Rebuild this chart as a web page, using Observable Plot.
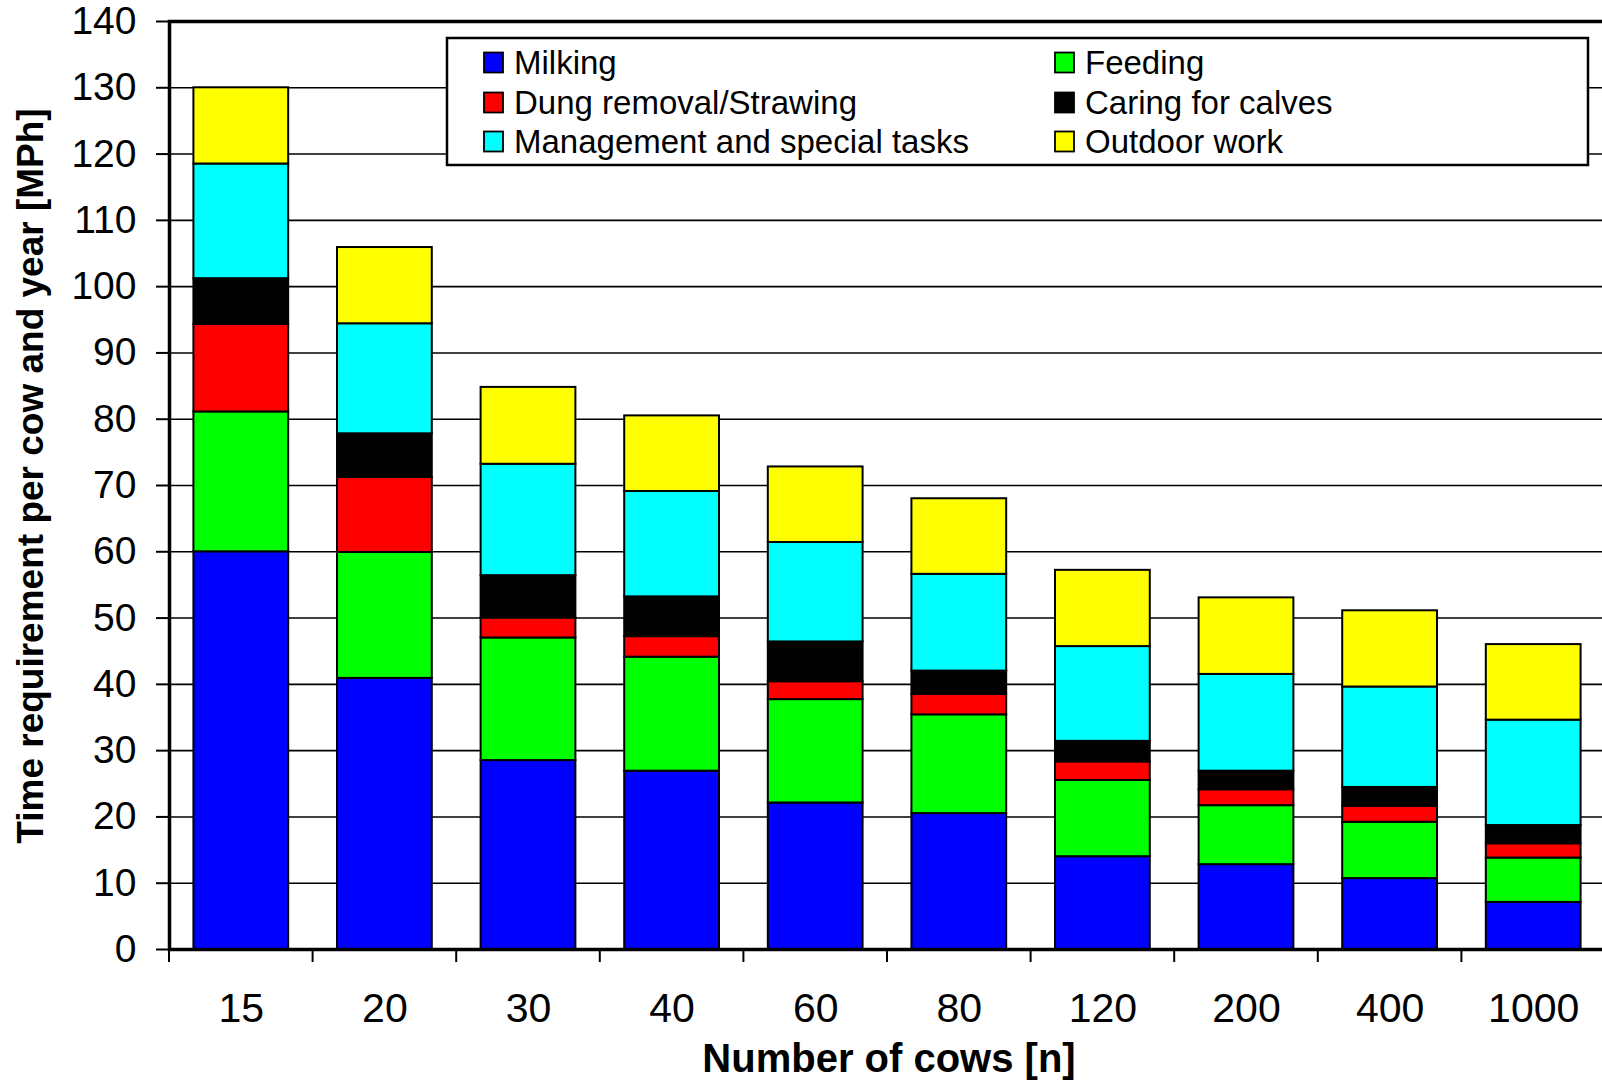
<!DOCTYPE html>
<html>
<head>
<meta charset="utf-8">
<script src="https://cdn.jsdelivr.net/npm/d3@7"></script>
<script src="https://cdn.jsdelivr.net/npm/@observablehq/plot@0.6"></script>
<style>
  html, body { margin: 0; padding: 0; background: #fff; overflow: hidden; }
</style>
</head>
<body>
<div id="chart"></div>
<script>
// Herd sizes (number of cows) on the x axis
const cows = ["15", "20", "30", "40", "60", "80", "120", "200", "400", "1000"];

// Work categories, stacked bottom to top, and their fills
const tasks = [
  "Milking",
  "Feeding",
  "Dung removal/Strawing",
  "Caring for calves",
  "Management and special tasks",
  "Outdoor work"
];
const taskColors = ["#0000ff", "#00ff00", "#ff0000", "#000000", "#00ffff", "#ffff00"];

// Time requirement per cow and year [MPh] for each category
const milking    = [60.0, 40.9, 28.5, 26.9, 22.1, 20.5, 14.0, 12.8, 10.7, 7.1];
const feeding    = [21.1, 19.0, 18.5, 17.2, 15.6, 14.9, 11.5, 8.9, 8.5, 6.7];
const dung       = [13.2, 11.3, 3.0, 3.1, 2.7, 3.1, 2.8, 2.4, 2.4, 2.15];
const calves     = [6.9, 6.6, 6.4, 6.0, 6.0, 3.5, 3.1, 2.8, 2.85, 2.75];
const management = [17.3, 16.6, 16.8, 15.9, 15.0, 14.6, 14.3, 14.6, 15.15, 15.9];
const outdoor    = [11.5, 11.5, 11.6, 11.4, 11.4, 11.4, 11.5, 11.55, 11.5, 11.4];

// Value axis ticks
const yTicks = [0, 10, 20, 30, 40, 50, 60, 70, 80, 90, 100, 110, 120, 130, 140];

const xTitle = "Number of cows [n]";
const yTitle = "Time requirement per cow and year [MPh]";

// Long-format table for the stacked bars
const series = [milking, feeding, dung, calves, management, outdoor];
const rows = cows.flatMap((c, i) =>
  tasks.map((t, k) => ({cows: c, task: t, value: series[k][i]}))
);

const FONT = "'Liberation Sans', Arial, Helvetica, sans-serif";

const chart = Plot.plot({
  width: 1602,
  height: 1082,
  marginLeft: 169,
  marginRight: -3,
  marginTop: 21,
  marginBottom: 133,
  style: {fontFamily: FONT, color: "black", background: "white", overflow: "hidden"},
  x: {domain: cows, paddingInner: 0.34, paddingOuter: 0.17, round: false, label: null},
  y: {domain: [0, 140], label: null},
  color: {domain: tasks, range: taskColors},
  marks: [
    Plot.ruleY(yTicks, {stroke: "black", strokeWidth: 1.6}),
    Plot.barY(rows, {x: "cows", y: "value", fill: "task", stroke: "black", strokeWidth: 2}),
    Plot.frame({stroke: "black", strokeWidth: 3.5}),
    Plot.axisY({ticks: yTicks, tickSize: 13, tickPadding: 20, fontSize: 39, strokeWidth: 2, label: null}),
    Plot.axisX({tickSize: 0, tickPadding: 43, fontSize: 41, label: null})
  ]
});

document.getElementById("chart").appendChild(chart);

const svg = d3.select(chart);
const xs = chart.scale("x");
const ys = chart.scale("y");

// Category ticks sit on the boundaries between bands
const step = xs.apply(cows[1]) - xs.apply(cows[0]);
const gap = (step - xs.bandwidth) / 2;
const y0 = ys.apply(0);
svg.append("g")
  .selectAll("line")
  .data(cows)
  .join("line")
  .attr("x1", d => xs.apply(d) - gap)
  .attr("x2", d => xs.apply(d) - gap)
  .attr("y1", y0)
  .attr("y2", y0 + 13)
  .attr("stroke", "black")
  .attr("stroke-width", 2);

// Axis titles
svg.append("text")
  .attr("x", 889)
  .attr("y", 1072)
  .attr("text-anchor", "middle")
  .attr("font-family", FONT)
  .attr("font-weight", "bold")
  .attr("font-size", 40)
  .text(xTitle);

svg.append("text")
  .attr("transform", "translate(43,476) rotate(-90)")
  .attr("text-anchor", "middle")
  .attr("font-family", FONT)
  .attr("font-weight", "bold")
  .attr("font-size", 37)
  .text(yTitle);

// Legend box inside the plot area, two columns of three entries
const legend = svg.append("g")
  .attr("font-family", FONT)
  .attr("font-size", 33)
  .attr("text-anchor", "start");
legend.append("rect")
  .attr("x", 447).attr("y", 38)
  .attr("width", 1141).attr("height", 127)
  .attr("fill", "white").attr("stroke", "black").attr("stroke-width", 2.5);

const colX = [484, 1055];
const rowY = [62.5, 102.5, 141.5];
tasks.forEach((t, k) => {
  const col = k % 2, row = Math.floor(k / 2);
  const g = legend.append("g").attr("transform", `translate(${colX[col]},${rowY[row]})`);
  g.append("rect")
    .attr("x", 0).attr("y", -10)
    .attr("width", 19).attr("height", 20)
    .attr("fill", chart.scale("color").apply(t))
    .attr("stroke", "black").attr("stroke-width", 1.8);
  g.append("text")
    .attr("x", 30).attr("y", 0)
    .attr("dy", "0.35em")
    .attr("text-anchor", "start")
    .text(t);
});
</script>
</body>
</html>
